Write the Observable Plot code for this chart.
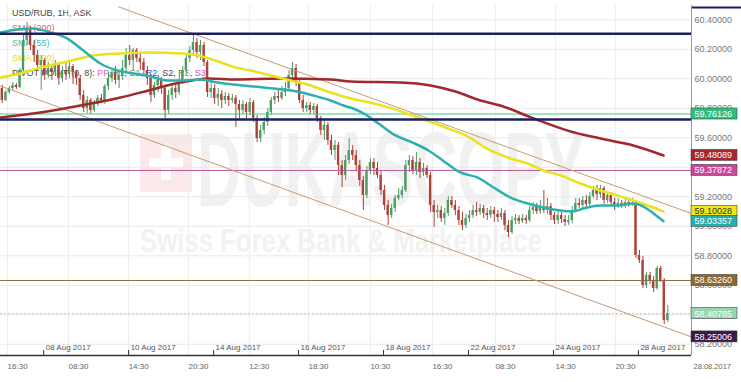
<!DOCTYPE html>
<html><head><meta charset="utf-8">
<script src="https://cdn.jsdelivr.net/npm/d3@7"></script>
<script src="https://cdn.jsdelivr.net/npm/@observablehq/plot@0.6"></script>
<style>
body{margin:0;background:#fff;}
#wrap{position:relative;width:741px;height:382px;overflow:hidden;font-family:"Liberation Sans",Arial,sans-serif;}
#wm{position:absolute;left:0;top:0;z-index:0;}
#wm .logo{position:absolute;left:140px;top:134px;width:52px;height:58px;background:#fbe8e8;}
#wm .logo:before{content:"";position:absolute;left:21px;top:12px;width:10px;height:34px;background:#fff;}
#wm .logo:after{content:"";position:absolute;left:9px;top:24px;width:34px;height:10px;background:#fff;}
#wm .big{position:absolute;left:197px;top:116px;font-size:98px;font-weight:bold;color:#f1f1f1;white-space:nowrap;transform:scale(0.62,1.08);transform-origin:left top;line-height:1;}
#wm .small{position:absolute;left:140px;top:224px;font-size:33px;font-weight:bold;color:#f2f2f2;white-space:nowrap;transform:scaleX(0.78);transform-origin:left top;line-height:1;}
#legend{position:absolute;left:12px;top:6px;z-index:1;font-size:9px;line-height:15px;}
#chart{position:absolute;left:0;top:0;z-index:2;}
</style></head><body>
<div id="wrap">
<div id="wm"><div class="logo"></div><div class="big">DUKASCOPY</div><div class="small">Swiss Forex Bank &amp; Marketplace</div></div>
<div id="legend">
<div style="color:#444">USD/RUB, 1H, ASK</div>
<div style="color:#d36b6b">SMA (200)</div>
<div style="color:#3dbdbd">SMA (55)</div>
<div style="color:#e3dc1a">SMA (100)</div>
<div style="color:#444">PIVOT POINT (0, 8): <span style="color:#e05ec8">PP</span>, <span style="color:#2daa5c">R1</span>, <span style="color:#a08020">S1</span>, <span style="color:#3355cc">R2</span>, <span style="color:#553366">S2</span>, <span style="color:#8a5a30">R3</span>, <span style="color:#d546d5">S3</span></div>
</div>
<div id="chart"></div>
</div>
<script>
// ---- candle data (hourly bars, index = bar number) ----
const firstOpen = 59.934;
const close = [
59.853,59.907,59.934,59.955,59.941,60.056,60.260,60.341,60.226,60.158,
60.090,60.124,60.023,60.070,60.043,60.090,60.002,60.056,60.029,60.083,
60.043,60.002,59.887,59.799,59.853,59.785,59.826,59.867,59.853,59.948,
60.002,60.043,59.989,60.023,60.070,60.158,60.124,60.192,60.138,60.111,
60.056,60.002,59.887,59.955,59.989,59.934,59.785,59.887,59.934,59.907,
59.989,60.056,60.138,60.192,60.246,60.178,60.226,60.111,59.907,59.934,
59.867,59.894,59.853,59.880,59.853,59.867,59.826,59.785,59.826,59.772,
59.839,59.731,59.595,59.649,59.704,59.772,59.853,59.880,59.867,59.907,
59.934,60.023,60.070,59.975,59.853,59.799,59.819,59.785,59.812,59.731,
59.649,59.684,59.582,59.514,59.548,59.412,59.345,59.446,59.514,59.480,
59.412,59.311,59.209,59.378,59.433,59.392,59.345,59.243,59.141,59.073,
59.121,59.189,59.209,59.243,59.412,59.446,59.378,59.433,59.365,59.392,
59.345,59.141,59.094,59.107,59.053,59.087,59.175,59.141,59.107,59.039,
59.006,59.053,59.073,59.107,59.094,59.121,59.087,59.073,59.107,59.080,
59.060,59.087,59.006,58.958,59.039,59.053,59.033,59.053,59.039,59.107,
59.128,59.100,59.134,59.107,59.134,59.073,59.039,59.073,59.046,59.026,
59.039,59.107,59.155,59.141,59.175,59.148,59.202,59.243,59.216,59.256,
59.175,59.209,59.161,59.141,59.155,59.134,59.161,59.148,59.155,58.802,
58.768,58.599,58.667,58.633,58.578,58.714,58.633,58.361,58.408];
const high = [
59.955,59.921,59.948,59.975,59.968,60.070,60.294,60.382,60.355,60.260,
60.192,60.158,60.138,60.111,60.097,60.124,60.111,60.083,60.104,60.124,
60.097,60.056,60.023,59.921,59.880,59.867,59.853,59.887,59.894,59.961,
60.043,60.070,60.083,60.056,60.124,60.206,60.226,60.206,60.206,60.172,
60.138,60.083,60.029,59.975,60.016,60.009,59.955,59.921,59.961,59.961,
60.016,60.083,60.158,60.219,60.307,60.273,60.260,60.246,60.124,59.989,
59.961,59.934,59.921,59.907,59.900,59.894,59.887,59.853,59.853,59.839,
59.867,59.853,59.751,59.684,59.738,59.799,59.873,59.907,59.921,59.948,
59.975,60.056,60.111,60.097,60.002,59.887,59.839,59.839,59.833,59.826,
59.745,59.717,59.704,59.616,59.582,59.568,59.446,59.480,59.595,59.548,
59.514,59.446,59.338,59.406,59.460,59.460,59.433,59.378,59.277,59.175,
59.148,59.209,59.256,59.270,59.446,59.480,59.473,59.500,59.460,59.426,
59.412,59.365,59.175,59.141,59.134,59.121,59.202,59.202,59.175,59.134,
59.094,59.080,59.107,59.141,59.161,59.148,59.141,59.121,59.134,59.128,
59.107,59.121,59.107,59.039,59.066,59.080,59.073,59.080,59.073,59.134,
59.161,59.155,59.175,59.243,59.189,59.155,59.094,59.107,59.094,59.073,
59.073,59.134,59.189,59.189,59.202,59.209,59.229,59.270,59.277,59.277,
59.270,59.229,59.229,59.189,59.189,59.175,59.182,59.182,59.189,59.175,
58.836,58.795,58.687,58.687,58.660,58.728,58.728,58.646,58.463];
const low = [
59.833,59.846,59.894,59.921,59.928,59.934,60.043,60.226,60.192,60.111,
60.056,59.921,59.989,60.002,59.989,60.023,59.955,59.975,59.989,60.002,
59.961,59.955,59.853,59.772,59.765,59.758,59.772,59.812,59.833,59.826,
59.921,59.975,59.961,59.934,59.989,60.043,60.090,60.056,60.111,60.056,
60.023,59.955,59.839,59.867,59.907,59.894,59.731,59.758,59.853,59.867,
59.887,59.961,60.029,60.111,60.151,60.138,60.124,60.083,59.873,59.867,
59.826,59.812,59.799,59.826,59.812,59.833,59.670,59.731,59.758,59.731,
59.751,59.704,59.568,59.568,59.622,59.677,59.751,59.826,59.839,59.853,
59.880,59.921,59.989,59.948,59.833,59.772,59.772,59.758,59.758,59.704,
59.616,59.582,59.548,59.480,59.446,59.345,59.263,59.311,59.419,59.446,
59.378,59.270,59.107,59.189,59.351,59.345,59.324,59.209,59.107,59.006,
59.053,59.094,59.175,59.189,59.229,59.365,59.351,59.345,59.324,59.338,
59.324,59.094,58.992,59.053,59.026,59.006,59.066,59.121,59.073,59.006,
58.971,58.985,59.026,59.053,59.066,59.073,59.053,59.039,59.053,59.026,
59.026,59.039,58.971,58.924,58.944,59.012,59.012,59.019,59.012,59.026,
59.080,59.080,59.080,59.087,59.080,59.039,59.012,59.012,59.019,58.999,
59.006,59.019,59.094,59.121,59.121,59.128,59.134,59.189,59.175,59.189,
59.148,59.155,59.134,59.107,59.121,59.121,59.121,59.128,59.134,58.782,
58.748,58.578,58.578,58.605,58.551,58.565,58.619,58.334,58.348];

// ---- moving averages (bar position, value) ----
const sma55Pos = [0,4.8,9.3,14.1,18.9,23.4,28.2,33.1,37.6,42.4,47.2,51.7,56.5,61.3,65.8,74.3,83.9,88.4,93.2,96.9,100.3,103.1,106.8,111.6,116.4,120.9,125.7,129.9,134.7,139.3,144.1,148.9,153.4,158.2,161.6,164.7,169.5,174.3,178.8,181.6,184.5,187.3];
const sma55Val = [60.314,60.334,60.341,60.314,60.273,60.192,60.104,60.056,60.036,60.016,59.989,59.989,59.995,59.975,59.961,59.941,59.914,59.887,59.853,59.819,59.792,59.758,59.697,59.616,59.568,59.514,59.433,59.365,59.331,59.263,59.195,59.155,59.128,59.107,59.100,59.121,59.141,59.141,59.155,59.134,59.087,59.034];
const sma100Pos = [0,5.6,11.3,18.9,26.3,33.9,41.8,51.4,55.9,60.7,66.4,70.6,76.3,81.9,87.6,93.2,98.9,103.1,109.6,116.4,125.7,131.4,138.4,144.1,148.9,153.4,158.2,163.8,169.5,174.3,178.8,183.6,187.3];
const sma100Val = [60.009,60.036,60.077,60.117,60.158,60.172,60.178,60.172,60.158,60.124,60.077,60.056,60.023,59.989,59.955,59.907,59.867,59.846,59.806,59.751,59.670,59.616,59.514,59.460,59.426,59.378,59.345,59.290,59.243,59.209,59.175,59.134,59.100];
const sma200Pos = [0,11.3,22.6,33.9,41.8,49.4,54.2,58.8,66.4,79.1,93.2,98.9,113.0,121.5,128.5,135.6,141.2,150.6,160.2,169.5,178.8,187.3];
const sma200Val = [59.738,59.772,59.819,59.873,59.921,59.968,59.989,60.002,59.995,60.002,59.995,59.982,59.975,59.955,59.914,59.853,59.819,59.731,59.649,59.595,59.548,59.480];

// ---- drawn levels and channel ----
const navyLevels = [60.305, 59.724];
const greenLevel = 59.76126;
const pinkLevel = 59.37872;
const brownLevel = 58.63260;
const lastPrice = 58.40785;
const upperChannelPos = [33.3, 195.2];
const upperChannelVal = [60.488, 59.087];
const lowerChannelPos = [0, 195.2];
const lowerChannelVal = [59.951, 58.25006];

// ---- price tags on the right axis ----
const tagValues = [59.76126, 59.48089, 59.37872, 59.10028, 59.03357, 58.63260, 58.40785, 58.25006];
const tagFill   = ["#2fc07f","#a8262b","#c8489c","#f0e81c","#26afaf","#8a6a34","#98d5b2","#3d1848"];
const tagText   = ["#fff","#fff","#fff","#333","#fff","#fff","#fff","#fff"];

// ---- axes ----
const yTicks = [58.2,58.4,58.6,58.8,59.0,59.2,59.4,59.6,59.8,60.0,60.2,60.4];
const dateTickPos = [12.2,36.2,60.2,84.2,108.2,132.2,156.2,180.2];
const dateTickLabels = ["08 Aug 2017","10 Aug 2017","14 Aug 2017","16 Aug 2017","18 Aug 2017","22 Aug 2017","24 Aug 2017","28 Aug 2017"];
const timePos = [2.0,19.2,36.2,53.1,70.3,87.0,104.5,122.0,139.8,156.8,173.7];
const timeLabels = ["16:30","08:30","14:30","20:30","12:30","18:30","10:30","16:30","08:30","14:30","20:30"];
const endDateLabel = "28.08.2017";

const xMax = 195.2;
const yDomain = [58.124, 60.497];
const yMin = yDomain[0];

const candles = close.map((c, i) => ({t: i + 0.5, o: i ? close[i - 1] : firstOpen, c, h: high[i], l: low[i]}));
const GREEN = "#4f9b66", RED = "#ad4236";
const col = d => d.c >= d.o ? GREEN : RED;
const series = (pos, val) => pos.map((t, i) => ({t, v: val[i]}));
const tags = tagValues.map((v, i) => ({v, fill: tagFill[i], text: tagText[i], label: v.toFixed(5)}));
const dates = dateTickPos.map((t, i) => ({t, label: dateTickLabels[i]}));
const times = timePos.map((t, i) => ({t, label: timeLabels[i]}));

const chart = Plot.plot({
  width: 741, height: 382,
  marginLeft: 0, marginRight: 50, marginTop: 5, marginBottom: 27,
  x: {domain: [0, xMax], axis: null},
  y: {domain: yDomain, axis: null},
  color: {type: "identity"},
  style: {background: "transparent", fontFamily: "Liberation Sans, Arial, sans-serif"},
  marks: [
    Plot.ruleY(yTicks, {stroke: "#e9e9e9"}),
    Plot.ruleX(timePos, {stroke: "#ededed"}),
    Plot.ruleX(candles, {x: "t", y1: "l", y2: "h", stroke: col, strokeWidth: 1}),
    Plot.rect(candles, {x1: d => d.t - 0.5, x2: d => d.t + 0.5, y1: "o", y2: "c", fill: col, insetLeft: 0.6, insetRight: 0.6}),
    Plot.ruleY([greenLevel], {stroke: "#3ccb8e", strokeWidth: 1}),
    Plot.ruleY([pinkLevel], {stroke: "#c0559e", strokeWidth: 1}),
    Plot.ruleY([brownLevel], {stroke: "#8e7044", strokeWidth: 1}),
    Plot.ruleY([lastPrice], {stroke: "#9fd6b6", strokeWidth: 1, strokeDasharray: "2,2"}),
    Plot.line(series(lowerChannelPos, lowerChannelVal), {x: "t", y: "v", stroke: "#c99a72", strokeWidth: 1}),
    Plot.line(series(upperChannelPos, upperChannelVal), {x: "t", y: "v", stroke: "#c99a72", strokeWidth: 1}),
    Plot.line(series(sma200Pos, sma200Val), {x: "t", y: "v", stroke: "#a3272b", strokeWidth: 2.5, curve: "monotone-x"}),
    Plot.line(series(sma100Pos, sma100Val), {x: "t", y: "v", stroke: "#e8e31c", strokeWidth: 2.5, curve: "monotone-x"}),
    Plot.line(series(sma55Pos, sma55Val), {x: "t", y: "v", stroke: "#2bb1ae", strokeWidth: 2.5, curve: "monotone-x"}),
    Plot.ruleY(navyLevels, {stroke: "#1b1f5c", strokeWidth: 2.5}),
    Plot.ruleY([yDomain[1]], {x1: () => xMax, x2: () => xMax, insetRight: -50, dy: 2, stroke: "#1b1f5c", strokeWidth: 2}),
    Plot.ruleY([yMin], {stroke: "#333", strokeWidth: 1.5}),
    Plot.ruleX([xMax], {stroke: "#999", strokeWidth: 1}),
    Plot.ruleX(dates, {x: "t", y1: () => yMin, y2: () => yMin, insetTop: -5, stroke: "#333"}),
    Plot.text(dates, {x: "t", y: () => yMin, text: "label", dx: 2, dy: -8, textAnchor: "start", fontSize: 8, fill: "#555"}),
    Plot.text(times, {x: "t", y: () => yMin, text: "label", dy: 11, textAnchor: "start", fontSize: 8, fill: "#666"}),
    Plot.text([endDateLabel], {x: () => xMax, y: () => yMin, text: d => d, dx: 2, dy: 11, textAnchor: "start", fontSize: 7.5, fill: "#666"}),
    Plot.text(yTicks, {x: () => xMax, y: d => d, text: d => d.toFixed(5), dx: 3, textAnchor: "start", fontSize: 9, fill: "#777"}),
    Plot.rect(tags, {x1: () => xMax, x2: () => xMax, y1: "v", y2: "v", insetRight: -46, insetTop: -5.5, insetBottom: -5.5, fill: "fill", stroke: "#444", strokeWidth: 0.6}),
    Plot.text(tags, {x: () => xMax, y: "v", text: "label", dx: 3, textAnchor: "start", fontSize: 9, fill: "text"})
  ]
});
document.getElementById("chart").appendChild(chart);
</script>
</body></html>
